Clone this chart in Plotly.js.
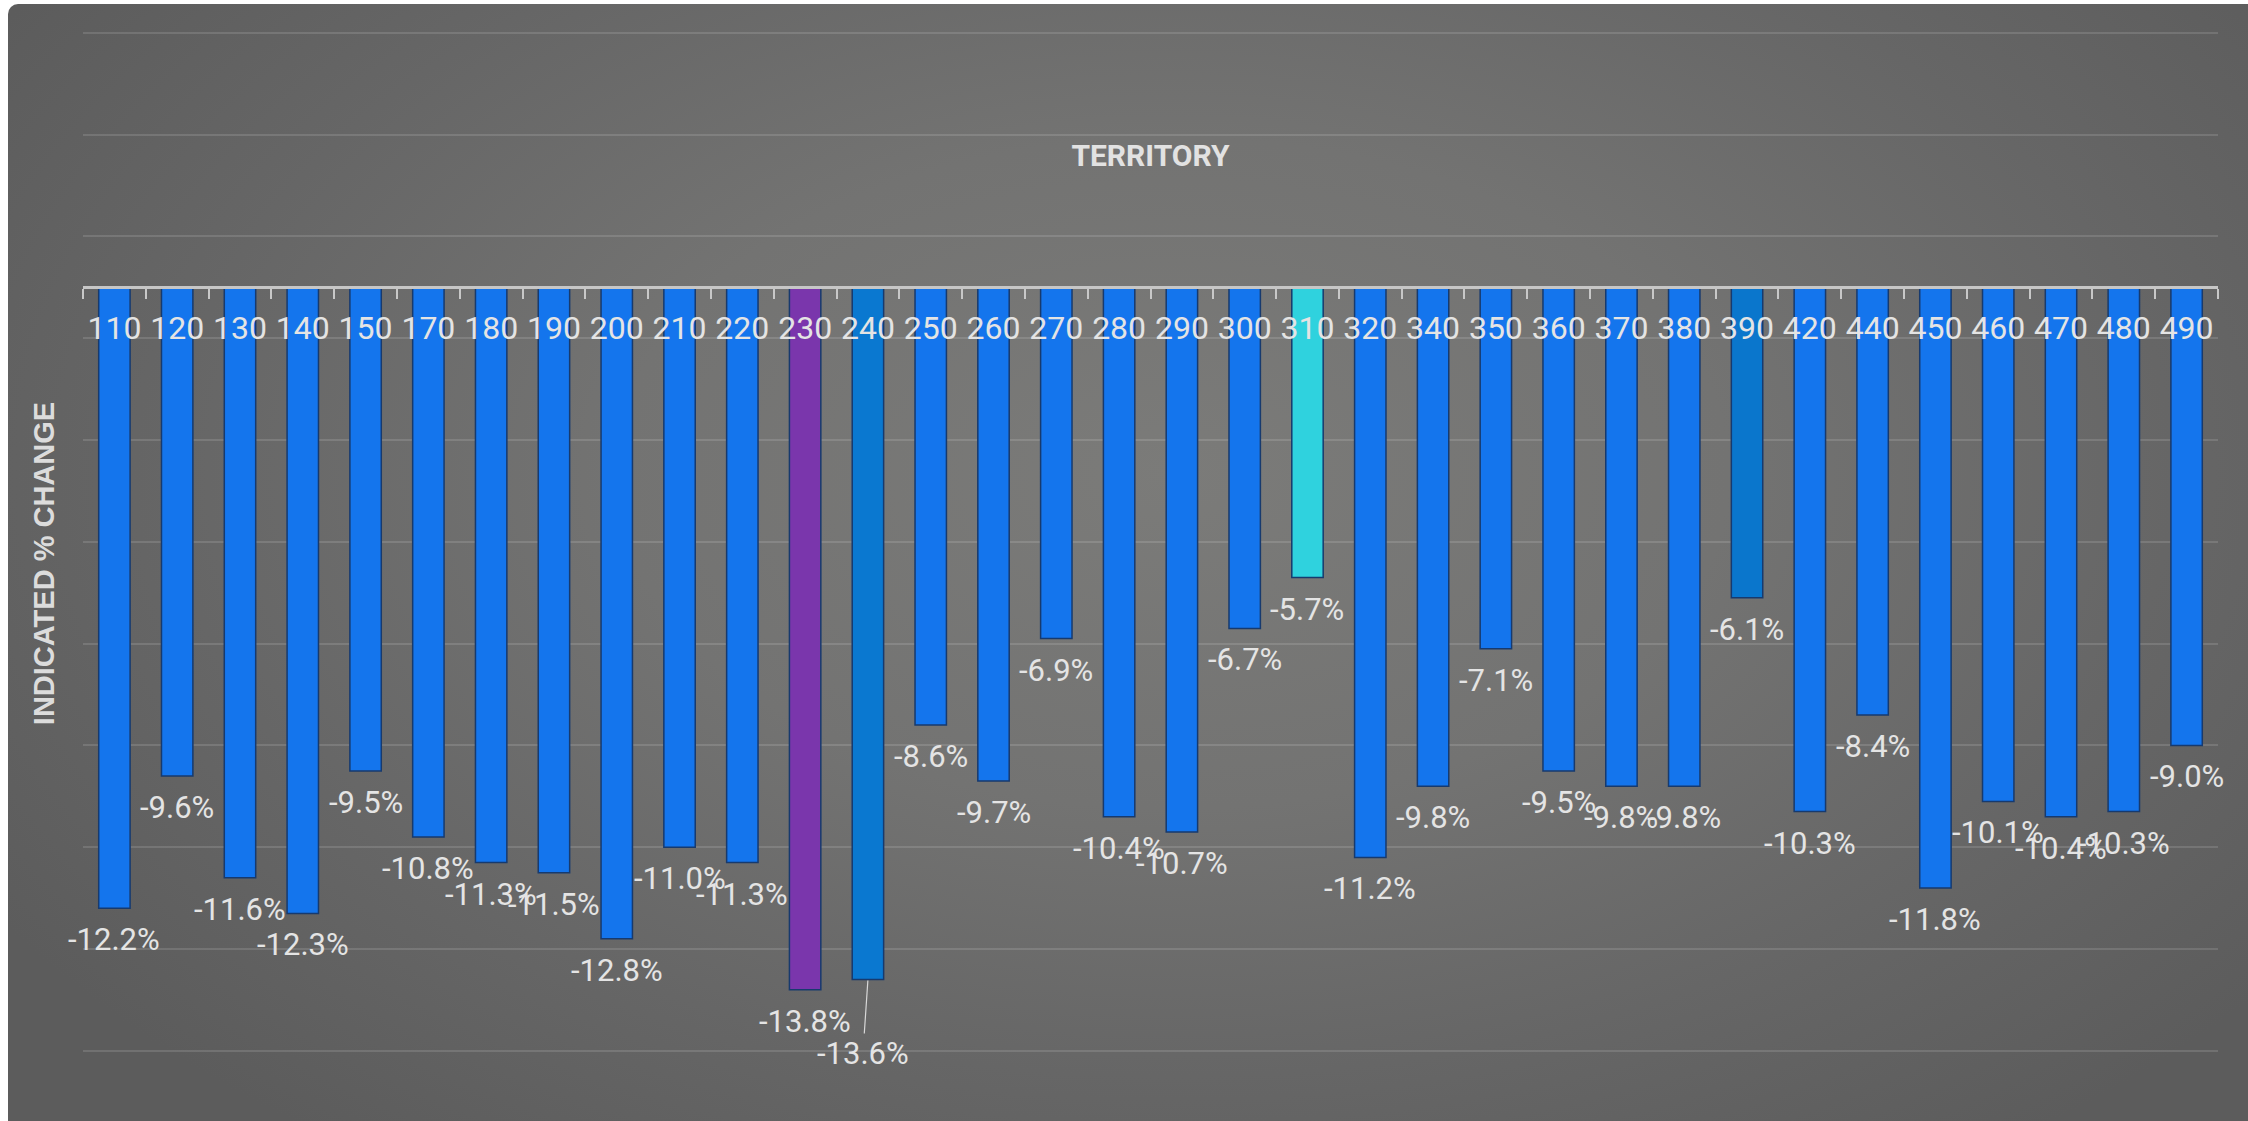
<!DOCTYPE html>
<html>
<head>
<meta charset="utf-8">
<script src="https://cdn.plot.ly/plotly-3.0.1.min.js"></script>
<style>
  html, body { margin: 0; padding: 0; background: #ffffff; }
  #wrap { position: relative; width: 2248px; height: 1121px; overflow: hidden; }
  #bg {
    position: absolute; left: 8px; top: 4px; right: 0; bottom: 0;
    border-top-left-radius: 10px;
    background: radial-gradient(ellipse 62% 75% at 52% 42%, #7b7b79 0%, #737372 40%, #666666 72%, #5c5c5c 100%);
  }
  #chart { position: absolute; left: 0; top: 0; width: 2248px; height: 1121px; }
</style>
</head>
<body>
<div id="wrap">
  <div id="bg"></div>
  <div id="chart"></div>
</div>
<script>
// ---- data ----
const categories = ['110','120','130','140','150','170','180','190','200','210','220','230','240','250','260','270','280','290','300','310','320','340','350','360','370','380','390','420','440','450','460','470','480','490'];
const changes = [-12.2,-9.6,-11.6,-12.3,-9.5,-10.8,-11.3,-11.5,-12.8,-11.0,-11.3,-13.8,-13.6,-8.6,-9.7,-6.9,-10.4,-10.7,-6.7,-5.7,-11.2,-9.8,-7.1,-9.5,-9.8,-9.8,-6.1,-10.3,-8.4,-11.8,-10.1,-10.4,-10.3,-9.0];
const xTitle = 'TERRITORY';
const yTitle = 'INDICATED % CHANGE';
const calloutCategory = '240';

// ---- styling ----
const baseColor = '#1475ed';
const specialColors = { '230': '#7a36ac', '240': '#0a78d0', '310': '#2fd2de', '390': '#0a76cc' };
const barColors = categories.map(c => specialColors[c] || baseColor);
const fmt = v => v.toFixed(1) + '%';

const yRange = [-16.3, 5.45];
const zeroPos = (0 - yRange[0]) / (yRange[1] - yRange[0]);
const labelFont = { family: 'Roboto, sans-serif', size: 31, color: '#e4e4e4' };

const trace = {
  type: 'bar',
  x: categories,
  y: changes,
  marker: { color: barColors, line: { color: '#173a6e', width: 1.5 } },
  hoverinfo: 'x+y'
};

// value labels, placed under each bar end through the axis scales
const valueLabels = categories.map((c, i) => {
  if (c === calloutCategory) {
    return {
      x: i, y: changes[i], xref: 'x', yref: 'y',
      text: fmt(changes[i]),
      showarrow: true, arrowhead: 0, arrowwidth: 1.2, arrowcolor: '#d8d8d8',
      ax: -5, ay: 74, standoff: 1,
      font: labelFont
    };
  }
  return {
    x: i, y: changes[i], xref: 'x', yref: 'y',
    text: fmt(changes[i]),
    showarrow: false, yanchor: 'top', xanchor: 'center', yshift: -11,
    font: labelFont
  };
});

const layout = {
  width: 2248, height: 1121,
  margin: { l: 83, r: 30, t: 10, b: 4 },
  paper_bgcolor: 'rgba(0,0,0,0)',
  plot_bgcolor: 'rgba(0,0,0,0)',
  showlegend: false,
  bargap: 0.5,
  title: {
    text: xTitle,
    font: { family: 'Roboto, sans-serif', size: 30, weight: 'bold', color: '#e2e2e2' },
    x: 0.5, xref: 'paper', xanchor: 'center',
    y: 1 - 155 / 1121, yref: 'container', yanchor: 'middle'
  },
  xaxis: {
    type: 'category',
    range: [-0.5, categories.length - 0.5],
    anchor: 'free', position: zeroPos, side: 'bottom',
    showline: true, linecolor: '#c6c6c6', linewidth: 3,
    ticks: 'outside', tickson: 'boundaries', ticklen: 10, tickwidth: 2, tickcolor: '#c8c8c8',
    tickfont: { family: 'Roboto, sans-serif', size: 32, color: '#e4e4e4' },
    tickangle: 0,
    ticklabelstandoff: 11,
    showgrid: false, zeroline: false, fixedrange: true
  },
  yaxis: {
    range: yRange,
    tick0: 1, dtick: 2,
    showgrid: true, gridcolor: 'rgba(255,255,255,0.13)', gridwidth: 2,
    zeroline: false, showline: false, showticklabels: false, ticks: '',
    title: {
      text: yTitle,
      font: { family: '"Liberation Sans", Arial, sans-serif', size: 29, weight: 'bold', color: '#dcdcdc' },
      standoff: 18
    },
    automargin: false, fixedrange: true
  },
  annotations: valueLabels
};

Plotly.newPlot('chart', [trace], layout, { displayModeBar: false, staticPlot: true });
</script>
</body>
</html>
